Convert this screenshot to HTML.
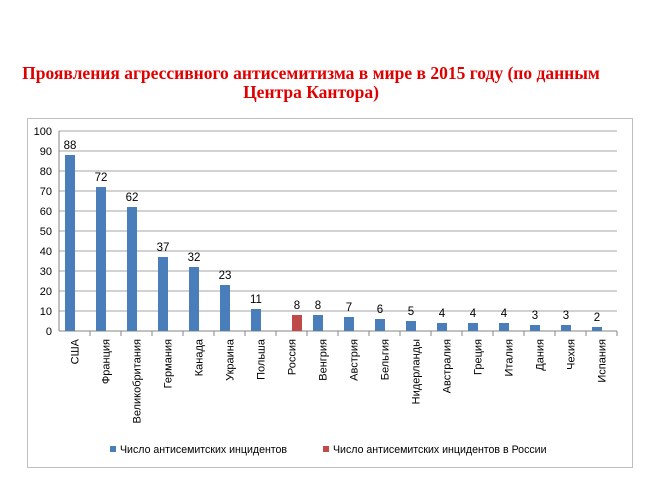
<!DOCTYPE html>
<html><head><meta charset="utf-8"><style>
body{margin:0;background:#fff;width:650px;height:494px;overflow:hidden}
svg text{font-family:"Liberation Sans","DejaVu Sans",sans-serif}
</style></head><body>
<svg width="650" height="494">
<text x="311" y="79" text-anchor="middle" fill="#e00000" font-size="17.5" font-weight="bold" style="font-family:'Liberation Serif',serif">Проявления агрессивного антисемитизма в мире в 2015 году (по данным</text>
<text x="311" y="98" text-anchor="middle" fill="#e00000" font-size="17.5" font-weight="bold" style="font-family:'Liberation Serif',serif">Центра Кантора)</text>
<rect x="27.5" y="118.5" width="605" height="349" fill="#fff" stroke="#bfbfbf"/>
<g id="grid"></g><g id="bars"></g><g id="xlabels"></g>
<g>
<rect x="110" y="446" width="6" height="6" fill="#4a7ebb"/>
<text x="120" y="453" font-size="10.6" fill="#000">Число антисемитских инцидентов</text>
<rect x="323" y="446" width="6" height="6" fill="#be4b48"/>
<text x="333" y="453" font-size="10.6" fill="#000">Число антисемитских инцидентов в России</text>
</g>
</svg>
<script>
const categories=["США","Франция","Великобритания","Германия","Канада","Украина","Польша","Россия","Венгрия","Австрия","Бельгия","Нидерланды","Австралия","Греция","Италия","Дания","Чехия","Испания"];
const worldValues=[88,72,62,37,32,23,11,null,8,7,6,5,4,4,4,3,3,2];
const russiaValues=[null,null,null,null,null,null,null,8,null,null,null,null,null,null,null,null,null,null];
const yTicks=[0,10,20,30,40,50,60,70,80,90,100];
const NS="http://www.w3.org/2000/svg";
const x0=59,x1=617,y0=331,y1=131,slot=(x1-x0)/categories.length;
const yS=v=>y0-(v/100)*(y0-y1);
function mk(t,a,p){const e=document.createElementNS(NS,t);for(const k in a)e.setAttribute(k,a[k]);p.appendChild(e);return e;}
const g=document.getElementById('grid'),b=document.getElementById('bars'),xl=document.getElementById('xlabels');
yTicks.forEach(v=>{
 const l=mk('line',{x1:x0,x2:x1,y1:yS(v),y2:yS(v),stroke:v===0?'#868686':'#a6a6a6','stroke-width':1},g);
 
 
 const t=mk('text',{x:x0-7,y:yS(v)+4,'text-anchor':'end','font-size':11},g);t.textContent=v;
 
 
});
mk('line',{x1:x0,x2:x0,y1:y1,y2:y0,stroke:'#868686'},g);
categories.forEach((c,i)=>{
 const sx=x0+i*slot;
 const tk=mk('line',{x1:sx+slot,x2:sx+slot,y1:y0,y2:y0+5,stroke:'#868686'},g);
 
 
 [[worldValues[i],6,'#4a7ebb'],[russiaValues[i],16,'#be4b48']].forEach(([v,off,col])=>{
  if(v==null)return;
  const r=mk('rect',{x:sx+off,y:yS(v),width:10,height:y0-yS(v),fill:col},b);
  
  
  const t=mk('text',{x:sx+off+5,y:yS(v)-6,'text-anchor':'middle','font-size':11.5},b);t.textContent=v;
  
  
 });
 const cx=sx+slot/2+4;
 const t=mk('text',{x:cx,y:y0+8,'text-anchor':'end','font-size':11,transform:`rotate(-90 ${cx} ${y0+8})`},xl);t.textContent=c;
 
 
});
</script>
</body></html>
